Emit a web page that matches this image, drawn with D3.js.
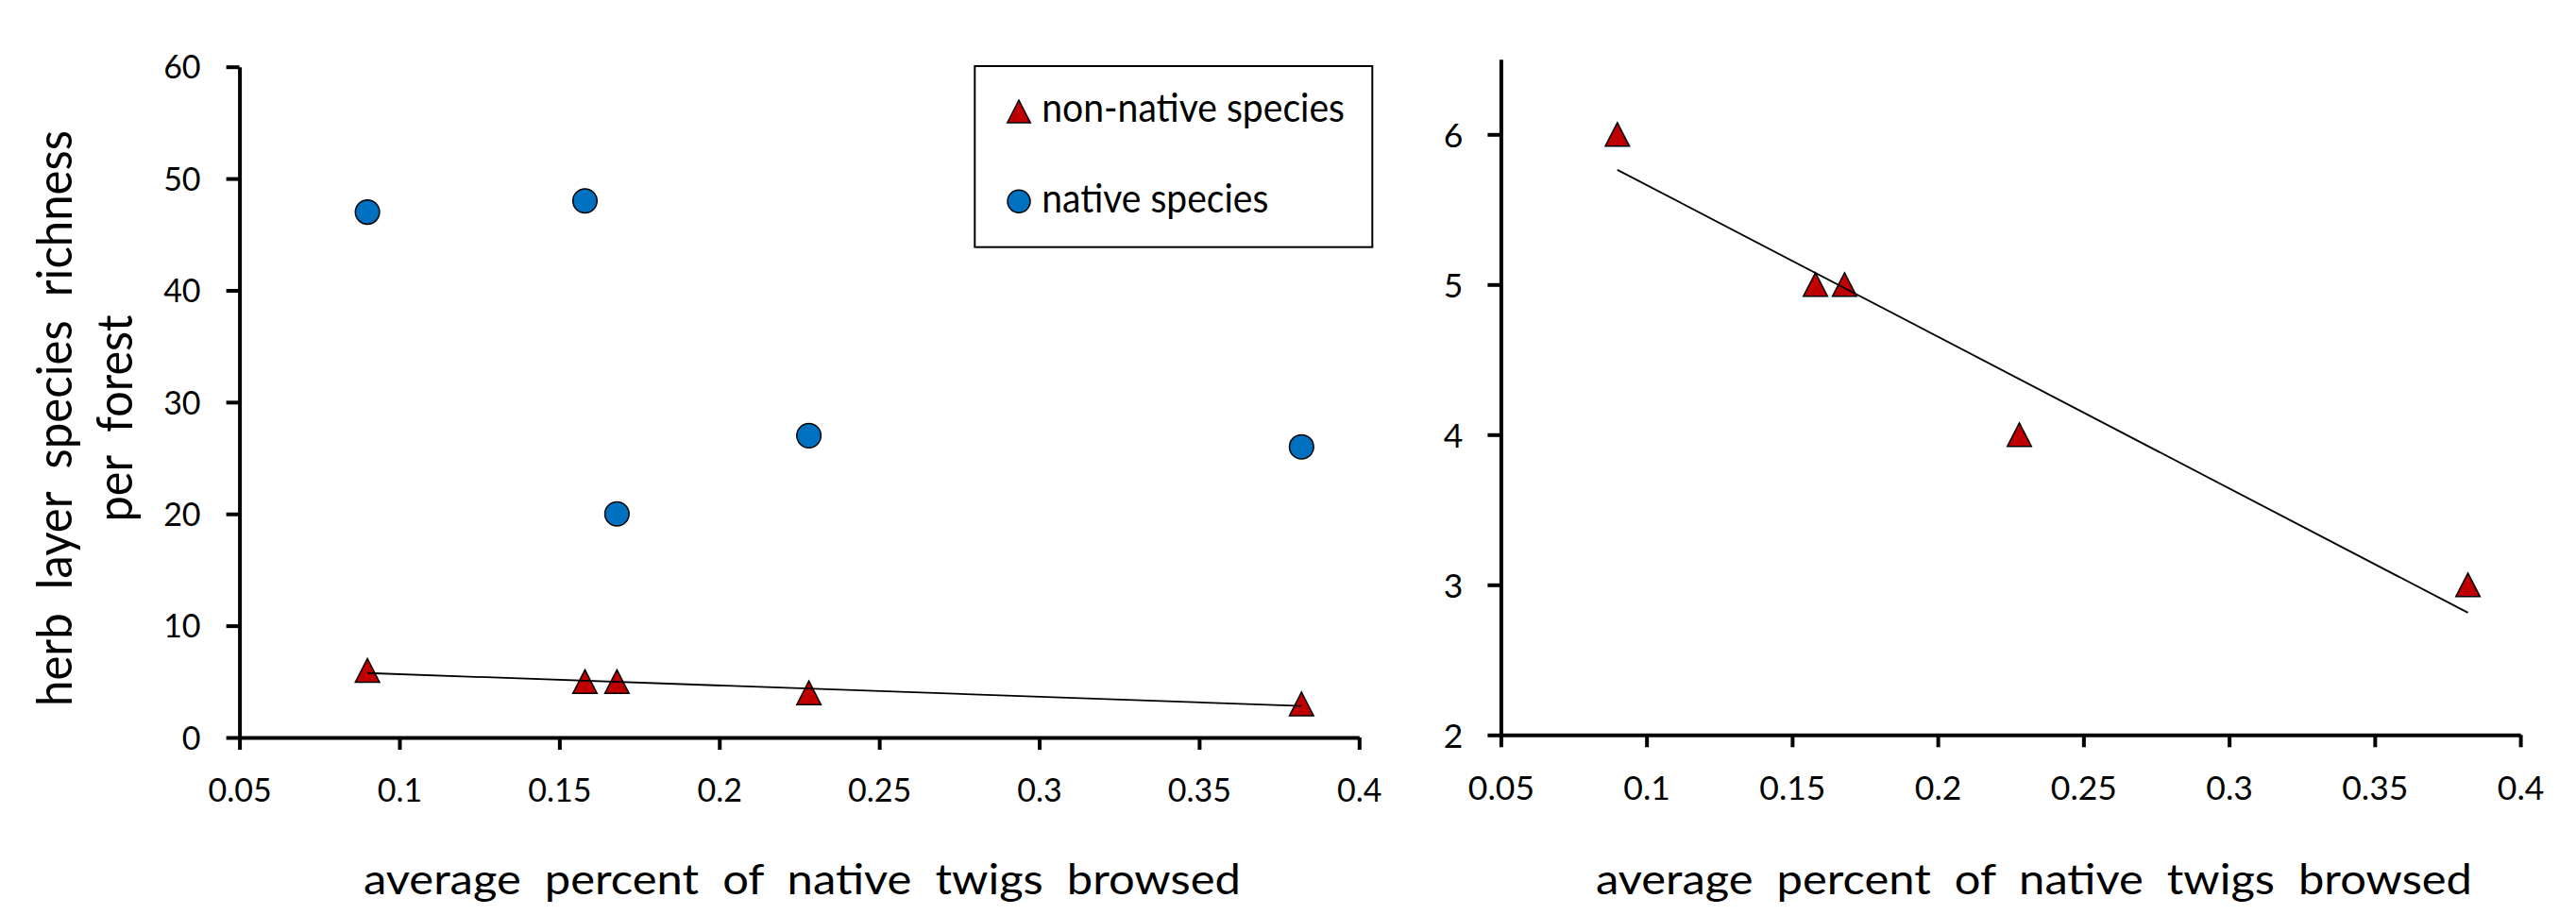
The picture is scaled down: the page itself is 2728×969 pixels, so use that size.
<!DOCTYPE html>
<html>
<head>
<meta charset="utf-8">
<script src="https://cdn.jsdelivr.net/npm/d3@7"></script>
<style>
  html, body { margin: 0; padding: 0; background: #fff; }
  svg { display: block; font-family: Lato, "Open Sans", sans-serif; }
  text { white-space: pre; }
</style>
</head>
<body>
<svg id="chart" width="2728" height="969"></svg>
<script>
// Average proportion of native twigs browsed in each forest
const browsed = [0.09, 0.158, 0.168, 0.228, 0.382];
// Herb-layer species richness per forest
const nonNative = [6, 5, 5, 4, 3];
const native = [47, 48, 20, 27, 26];
const seriesNames = ["non-native species", "native species"];

// Tick values and labels
const xTicks = [0.05, 0.1, 0.15, 0.2, 0.25, 0.3, 0.35, 0.4];
const xTickLabels = ["0.05", "0.1", "0.15", "0.2", "0.25", "0.3", "0.35", "0.4"];
const leftYTicks = [0, 10, 20, 30, 40, 50, 60];
const rightYTicks = [2, 3, 4, 5, 6];

const xTitle = "average  percent  of  native  twigs  browsed";
const yTitleLines = ["herb  layer  species  richness", "per  forest"];

const RED = "#C00000", BLUE = "#0070C0";

const svg = d3.select("#chart");
svg.append("rect").attr("width", 2728).attr("height", 969).attr("fill", "#fff");

// least-squares fit of non-native richness on browsing
function fit(xs, ys) {
  const mx = d3.mean(xs), my = d3.mean(ys);
  let sxy = 0, sxx = 0;
  xs.forEach((x, i) => { sxy += (x - mx) * (ys[i] - my); sxx += (x - mx) * (x - mx); });
  const b = sxy / sxx;
  return x => my + b * (x - mx);
}
const trend = fit(browsed, nonNative);
const trendX = d3.extent(browsed);

const triPath = "M0,-12.5L12.8,12.5L-12.8,12.5Z";

function styleAxis(g, fontSize) {
  g.attr("font-family", null).attr("font-size", null).attr("color", "#000");
  g.select(".domain").attr("stroke-width", 4);
  g.selectAll(".tick line").attr("stroke-width", 4);
  g.selectAll(".tick text").attr("font-size", fontSize).attr("fill", "#000");
}

function panel(opts) {
  const { x, y, yTicks, yDomainTop, fontSize, xLabelY, yLabelGap, titleX, titleLen } = opts;
  const g = svg.append("g");

  const gx = g.append("g")
    .attr("transform", `translate(0,${y.range()[0]})`)
    .call(d3.axisBottom(x).tickValues(xTicks)
      .tickFormat((d, i) => xTickLabels[i])
      .tickSize(13).tickSizeOuter(0));
  styleAxis(gx, fontSize);
  gx.selectAll(".tick text").attr("y", xLabelY).attr("dy", null);

  const gy = g.append("g")
    .attr("transform", `translate(${x.range()[0]},0)`)
    .call(d3.axisLeft(y).tickValues(yTicks).tickFormat(d3.format("d"))
      .tickSize(14).tickSizeOuter(0));
  styleAxis(gy, fontSize);
  gy.selectAll(".tick text").attr("x", -yLabelGap).attr("dy", "0.36em");

  g.append("text")
    .attr("x", titleX).attr("y", 947)
    .attr("font-size", 44)
    .attr("textLength", titleLen).attr("lengthAdjust", "spacingAndGlyphs")
    .text(xTitle);
  return g;
}

function drawTriangles(g, x, y) {
  g.selectAll(null).data(browsed.map((b, i) => [b, nonNative[i]]))
    .join("path")
    .attr("d", triPath)
    .attr("transform", d => `translate(${x(d[0])},${y(d[1])})`)
    .attr("fill", RED).attr("stroke", "#000").attr("stroke-width", 1.5);
}

function drawTrend(g, x, y) {
  g.append("path")
    .attr("d", d3.line().x(d => x(d)).y(d => y(trend(d)))(trendX))
    .attr("fill", "none").attr("stroke", "#000").attr("stroke-width", 1.8);
}

// ---- left panel: both series ----
const xL = d3.scaleLinear([0.05, 0.4], [253.6, 1439.3]);
const yL = d3.scaleLinear([0, 60], [781, 70.7]);
const left = panel({ x: xL, y: yL, yTicks: leftYTicks, fontSize: 34,
  xLabelY: 68, yLabelGap: 41, titleX: 385, titleLen: 929 });

left.selectAll(null).data(browsed.map((b, i) => [b, native[i]]))
  .join("circle")
  .attr("cx", d => xL(d[0])).attr("cy", d => yL(d[1])).attr("r", 12.8)
  .attr("fill", BLUE).attr("stroke", "#000").attr("stroke-width", 1.5);
drawTriangles(left, xL, yL);
drawTrend(left, xL, yL);

// y title (two lines)
[76, 140].forEach((bx, i) => {
  left.append("text")
    .attr("transform", `translate(${bx},443) rotate(-90)`)
    .attr("text-anchor", "middle")
    .attr("font-size", 52)
    .attr("textLength", i === 0 ? 610 : 219).attr("lengthAdjust", "spacingAndGlyphs")
    .text(yTitleLines[i]);
});

// legend
const leg = left.append("g");
leg.append("rect").attr("x", 1032.3).attr("y", 70).attr("width", 421).attr("height", 191.7)
  .attr("fill", "#fff").attr("stroke", "#000").attr("stroke-width", 2);
leg.append("path").attr("d", triPath).attr("transform", "translate(1079,118) scale(0.96)")
  .attr("fill", RED).attr("stroke", "#000").attr("stroke-width", 1.5);
leg.append("circle").attr("cx", 1079).attr("cy", 213.3).attr("r", 12)
  .attr("fill", BLUE).attr("stroke", "#000").attr("stroke-width", 1.5);
leg.append("text").attr("x", 1103.3).attr("y", 129.3).attr("font-size", 42)
  .attr("textLength", 320.7).attr("lengthAdjust", "spacingAndGlyphs").text(seriesNames[0]);
leg.append("text").attr("x", 1103.3).attr("y", 225).attr("font-size", 42)
  .attr("textLength", 240).attr("lengthAdjust", "spacingAndGlyphs").text(seriesNames[1]);

// ---- right panel: non-native species only ----
const xR = d3.scaleLinear([0.05, 0.4], [1589.4, 2669.1]);
const yR = d3.scaleLinear([2, 6.5], [778.3, 62.8]);
const right = panel({ x: xR, y: yR, yTicks: rightYTicks, fontSize: 35.5,
  xLabelY: 69, yLabelGap: 40, titleX: 1690, titleLen: 928 });
drawTriangles(right, xR, yR);
drawTrend(right, xR, yR);
</script>
</body>
</html>
